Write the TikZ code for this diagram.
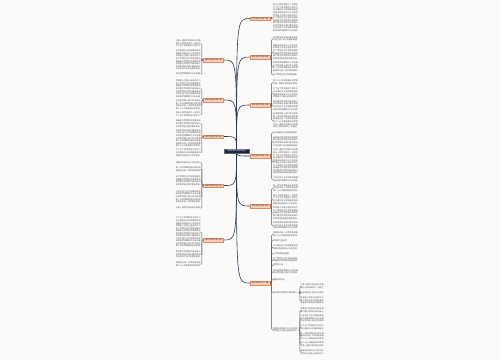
\documentclass[tikz,border=0pt]{standalone}
\usepackage{fontspec}
\usetikzlibrary{backgrounds}
\newfontfamily\cjk{Noto Sans CJK SC}
\XeTeXlinebreaklocale "zh"
\XeTeXlinebreakskip = 0pt plus 1pt
\definecolor{bgc}{RGB}{252,250,249}
\definecolor{conc}{RGB}{44,58,76}
\definecolor{brkc}{RGB}{90,90,90}
\definecolor{txtc}{RGB}{80,80,80}
\definecolor{orfill}{RGB}{248,208,184}
\definecolor{ordraw}{RGB}{226,140,100}
\definecolor{hubfill}{RGB}{26,38,58}
\newcommand\ph[1]{\ifcase#1 每个人心中都有美好的梦想\or 它像一盏明灯照亮前行的路\or 我从小就梦想成为一名医生\or 为了这个梦想我努力地学习\or 无论遇到多大的困难和挫折\or 我都没有放弃过心中的信念\or 梦想是人生路上前进的动力\or 有了梦想生活才会更加精彩\or 青春因为梦想而变得更美丽\or 我们要为梦想而不断地奋斗\or 老师常常告诉我们要有目标\or 只有坚持下去才能看到希望\or 妈妈说梦想要靠汗水去浇灌\or 在追梦的路上我们并不孤单\or 每一次失败都是成长的阶梯\or 我相信总有一天梦想会成真\fi}
\newcommand\blk[2]{\foreach \i in {1,...,#1}{\pgfmathtruncatemacro\k{mod(\i+#2,16)}\ph{\k}\hskip 0pt plus 1pt\relax}}
\tikzset{
  txt/.style={font=\cjk\fontsize{2}{2.55}\selectfont, text width=25pt, align=left, inner sep=0pt, text=txtc},
  stxt/.style={font=\cjk\fontsize{1.9}{2.55}\selectfont, text width=23pt, align=left, inner sep=0pt, text=txtc},
  br/.style={font=\cjk\fontsize{1.8}{2}\selectfont, fill=orfill, draw=ordraw, line width=0.3pt, minimum width=20pt, minimum height=3.5pt, inner sep=0.4pt, text=black!80},
  hub/.style={font=\cjk\fontsize{1.8}{2}\selectfont, fill=hubfill, draw=hubfill!70!white, line width=0.3pt, minimum width=25pt, minimum height=4pt, inner sep=0.4pt, text=white},
  con/.style={draw=conc, line width=0.6pt},
  brk/.style={draw=brkc, line width=0.35pt, rounded corners=1pt}
}
\begin{document}
\begin{tikzpicture}[x=1pt,y=-1pt]
\useasboundingbox (0,0) rectangle (500,360);
\begin{scope}[on background layer]
\fill[bgc] (0,0) rectangle (500,360);
\end{scope}
% hub
\node[hub] (C) at (236.5,150.75) {我的梦想作文高中精选};
% left branches
\node[br] (L1) at (213.5,60) {我的梦想作文第一篇};
\node[br] (L2) at (213.5,100) {我的梦想作文第三篇};
\node[br] (L3) at (213.5,136.5) {我的梦想作文第五篇};
\node[br] (L4) at (213.5,185.5) {我的梦想作文第七篇};
\node[br] (L5) at (213.5,240) {我的梦想作文第九篇};
% right branches
\node[br] (R1) at (260,18.5) {我的梦想作文第二篇};
\node[br] (R2) at (260,57) {我的梦想作文第四篇};
\node[br] (R3) at (260,105) {我的梦想作文第六篇};
\node[br] (R4) at (260,156) {我的梦想作文第八篇};
\node[br] (R5) at (260,206) {我的梦想作文第十篇};
\node[br] (R6) at (260,283) {我的梦想作文十一篇};
% left text blocks
\begin{scope}[every node/.style={txt,anchor=north east}]
\node (L1a) at (201,40) {\blk{3}{0}};
\node (L1b) at (201,50) {\blk{8}{3}};
\node (L1c) at (201,73) {\blk{1}{11}};
\node (L2a) at (201,80) {\blk{7}{5}};
\node (L2b) at (201,100) {\blk{4}{12}};
\node (L2c) at (201,112) {\blk{2}{1}};
\node (L3a) at (201,120) {\blk{3}{7}};
\node (L3b) at (201,129.5) {\blk{7}{9}};
\node (L3c) at (201,149) {\blk{3}{2}};
\node (L4a) at (201,161.5) {\blk{1}{4}};
\node (L4b) at (201,167) {\blk{2}{13}};
\node (L4c) at (201,176) {\blk{4}{6}};
\node (L4d) at (201,190.5) {\blk{5}{10}};
\node (L4e) at (201,207) {\blk{1}{0}};
\node (L5a) at (201,217) {\blk{12}{2}};
\node (L5b) at (201,251) {\blk{3}{8}};
\node (L5c) at (201,262) {\blk{2}{14}};
\end{scope}
% right text blocks
\begin{scope}[every node/.style={txt,anchor=north west}]
\node (R1a) at (273,4) {\blk{11}{1}};
\node (R2a) at (273,36.5) {\blk{2}{9}};
\node (R2b) at (273,44.5) {\blk{6}{4}};
\node (R2c) at (273,62) {\blk{4}{11}};
\node (R2d) at (273,74) {\blk{1}{6}};
\node (R3a) at (273,80) {\blk{2}{15}};
\node (R3b) at (273,88) {\blk{4}{2}};
\node (R3c) at (273,100.5) {\blk{4}{8}};
\node (R3d) at (273,113) {\blk{6}{12}};
\node (R4a) at (273,131.5) {\blk{1}{3}};
\node (R4b) at (273,136.5) {\blk{4}{7}};
\node (R4c) at (273,149) {\blk{10}{0}};
\node (R4d) at (273,177) {\blk{2}{10}};
\node (R5a) at (273,184.5) {\blk{3}{13}};
\node (R5b) at (273,194.5) {\blk{4}{1}};
\node (R5c) at (273,207) {\blk{5}{5}};
\node (R5d) at (273,222) {\blk{3}{9}};
\node (R6a) at (273,232) {\blk{2}{14}};
\node (R6b) at (273,239.5) {梦想的力量无穷};
\node (R6c) at (273,245) {\blk{2}{3}};
\node (R6d) at (273,252.5) {心怀梦想勇往直前};
\node (R6e) at (273,257.5) {\blk{2}{6}};
\node (R6f) at (273,264) {追梦的少年};
\node (R6g) at (273,269.5) {\blk{2}{11}};
\node (R6h) at (273,278.5) {做最好的自己};
\node (S1) at (273,291.3) {\blk{1}{8}};
\node (S2) at (273,327.5) {\blk{2}{4}};
\end{scope}
\begin{scope}[every node/.style={stxt,anchor=north west}]
\node (S1a) at (300.5,284) {\blk{2}{0}};
\node (S1b) at (300.5,291.5) {\blk{1}{12}};
\node (S1c) at (300.5,297) {\blk{3}{5}};
\node (S2a) at (300.5,308) {\blk{2}{7}};
\node (S2b) at (300.5,315) {\blk{3}{10}};
\node (S2c) at (300.5,325) {\blk{2}{2}};
\node (S2d) at (300.5,332.5) {\blk{3}{13}};
\node (S2e) at (300.5,342) {\blk{2}{15}};
\node (S2f) at (300.5,350) {\blk{2}{4}};
\end{scope}
% connectors
\begin{scope}[on background layer]
\foreach \n in {L1,L2,L3,L4,L5}
  \draw[con] (C.center) .. controls (C.center |- \n.east) .. (\n.east);
\foreach \n in {R1,R2,R3,R4,R5,R6}
  \draw[con] (C.center) .. controls (C.center |- \n.west) .. (\n.west);
\end{scope}
\foreach \p/\c in {L1/L1a,L1/L1b,L1/L1c,L2/L2a,L2/L2b,L2/L2c,L3/L3a,L3/L3b,L3/L3c,L4/L4a,L4/L4b,L4/L4c,L4/L4d,L4/L4e,L5/L5a,L5/L5b,L5/L5c}
  \draw[brk] (\p.west) -- ++(-1.5,0) |- (\c.east);
\foreach \p/\c in {R1/R1a,R2/R2a,R2/R2b,R2/R2c,R2/R2d,R3/R3a,R3/R3b,R3/R3c,R3/R3d,R4/R4a,R4/R4b,R4/R4c,R4/R4d,R5/R5a,R5/R5b,R5/R5c,R5/R5d,R6/R6a,R6/R6b,R6/R6c,R6/R6d,R6/R6e,R6/R6f,R6/R6g,R6/R6h,R6/S1,R6/S2}
  \draw[brk] (\p.east) -- ++(1.5,0) |- (\c.west);
\foreach \c in {S1a,S1b,S1c}
  \draw[brk] (S1.east) ++(0.5,0) -- ++(1,0) |- (\c.west);
\foreach \c in {S2a,S2b,S2c,S2d,S2e,S2f}
  \draw[brk] (S2.east) ++(0.5,0) -- ++(1,0) |- (\c.west);
\end{tikzpicture}
\end{document}
